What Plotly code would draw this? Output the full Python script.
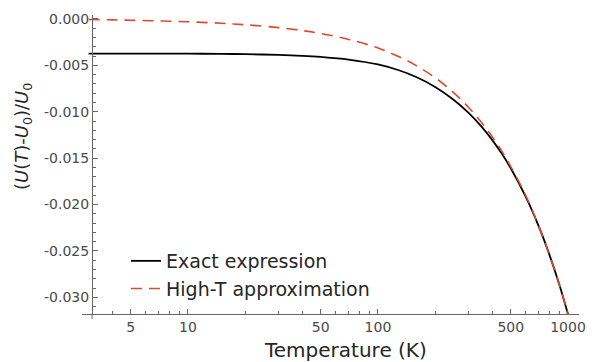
import math
import plotly.graph_objects as go

# ---- data ----
temperature = [3, 4, 5, 7, 10, 15, 20, 30, 40, 50, 70, 100, 130, 160, 200, 250, 300,
               350, 400, 450, 500, 600, 700, 800, 900, 1000]
exact = [-0.00374, -0.00374, -0.00374, -0.00374, -0.00374, -0.00376, -0.00379, -0.00387,
         -0.00397, -0.00409, -0.00437, -0.00490, -0.00555, -0.00628, -0.00732, -0.00870,
         -0.01012, -0.01157, -0.01305, -0.01456, -0.01609, -0.01918, -0.02230, -0.02545,
         -0.02862, -0.03180]
high_t = [-0.00005, -0.00010, -0.00014, -0.00021, -0.00030, -0.00046, -0.00062, -0.00093,
          -0.00125, -0.00156, -0.00220, -0.00312, -0.00410, -0.00505, -0.00633, -0.00793,
          -0.00953, -0.01112, -0.01270, -0.01430, -0.01590, -0.01905, -0.02225, -0.02545,
          -0.02860, -0.03180]

x_major = [5, 10, 50, 100, 500, 1000]
x_major_text = ["5", "10", "50", "100", "500", "1000"]
x_minor = [4, 6, 7, 8, 9, 20, 30, 40, 60, 70, 80, 90, 200, 300, 400, 600, 700, 800, 900]
y_major = [0.0, -0.005, -0.010, -0.015, -0.020, -0.025, -0.030]
y_major_text = ["0.000", "-0.005", "-0.010", "-0.015", "-0.020", "-0.025", "-0.030"]

FONT = "DejaVu Sans"
GREY = "#4a4a4a"
DARK = "#262626"
AXIS = "#666666"

fig = go.Figure()
fig.add_trace(go.Scatter(x=temperature, y=exact, mode="lines", name="Exact expression",
                         line=dict(color="black", width=1.8, shape="spline")))
fig.add_trace(go.Scatter(x=temperature, y=high_t, mode="lines", name="High-T approximation",
                         line=dict(color="#DF4B28", width=1.6, dash="11px,7px", shape="spline")))

# plot area: x 82..579 px, y 15..314 px
L, R, T, B = 82, 18, 15, 48
W, H = 597, 362
pw = W - L - R
ph = H - T - B
yaxis_pos = (92 - L) / pw

fig.update_layout(
    width=W, height=H,
    margin=dict(l=L, r=R, t=T, b=B),
    paper_bgcolor="white", plot_bgcolor="white",
    font=dict(family=FONT, color=GREY, size=14),
    showlegend=True,
    legend=dict(x=(126 - L) / pw, y=1 - (242 - T) / ph, xanchor="left", yanchor="top",
                bgcolor="rgba(0,0,0,0)", font=dict(size=19, color=DARK),
                tracegroupgap=0, itemwidth=30),
    xaxis=dict(type="log", range=[math.log10(2.77), math.log10(1143)],
               showgrid=False, zeroline=False, showline=True, linecolor=AXIS, linewidth=1,
               ticks="inside", ticklen=5, tickcolor=AXIS, tickwidth=1,
               tickmode="array", tickvals=x_major, ticktext=x_major_text,
               tickfont=dict(size=14, color=GREY),
               minor=dict(ticks="inside", ticklen=3, tickcolor=AXIS, tickwidth=1,
                          tickmode="array", tickvals=x_minor, showgrid=False)),
    yaxis=dict(range=[-0.03179, 0.00043], anchor="free", position=yaxis_pos,
               showgrid=False, zeroline=False, showline=True, linecolor=AXIS, linewidth=1,
               ticks="inside", ticklen=5, tickcolor=AXIS, tickwidth=1,
               tickmode="array", tickvals=y_major, ticktext=y_major_text,
               tickfont=dict(size=14, color=GREY),
               minor=dict(ticks="inside", ticklen=3, tickcolor=AXIS, tickwidth=1,
                          dtick=0.001, showgrid=False)),
)

# small extension of the vertical axis below the horizontal one
fig.add_shape(type="line", xref="paper", yref="paper", x0=yaxis_pos, x1=yaxis_pos,
              y0=0, y1=-5 / ph, line=dict(color=AXIS, width=1))

fig.add_annotation(text="Temperature (K)", xref="paper", yref="paper",
                   x=(345 - L) / pw, y=-(350 - (H - B)) / ph,
                   showarrow=False, font=dict(size=20, color=DARK),
                   xanchor="center", yanchor="middle")
fig.add_annotation(text="(<i>U</i>(<i>T</i>)-<i>U</i><sub>0</sub>)/<i>U</i><sub>0</sub>",
                   xref="paper", yref="paper",
                   x=(23 - L) / pw, y=1 - (137 - T) / ph,
                   showarrow=False, textangle=-90, font=dict(size=18, color=DARK),
                   xanchor="center", yanchor="middle")

fig.write_html("out.html")
